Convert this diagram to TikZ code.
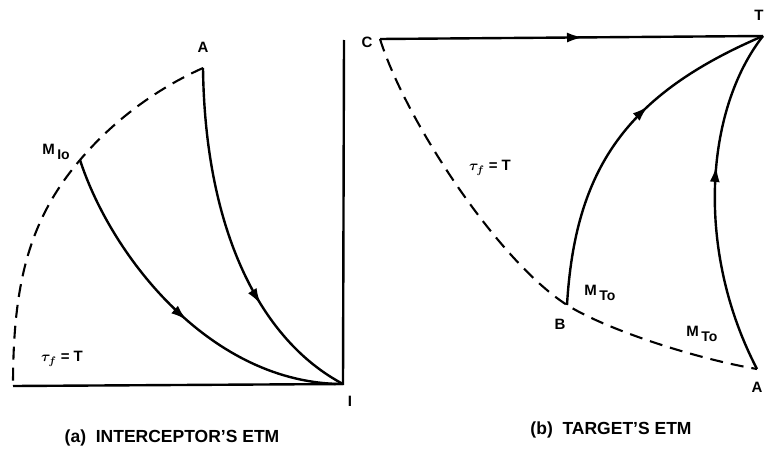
\documentclass[tikz,border=0pt]{standalone}
\usepackage{fontspec}
\setmainfont{Liberation Sans}
\usetikzlibrary{arrows.meta,decorations.markings}

\tikzset{
  traj/.style={line width=2.4pt},
  bound/.style={line width=2.1pt, dash pattern=on 13pt off 8pt},
  midarrow/.style={postaction={decorate},
    decoration={markings,mark=at position #1 with {\arrow{Latex[length=16pt,width=10pt]}}}},
  lbl/.style={font=\fontsize{15}{17}\selectfont\bfseries\boldmath, inner sep=0pt},
  capt/.style={font=\fontsize{17.5}{20}\selectfont\bfseries, inner sep=0pt},
}
\newcommand{\lowsub}[1]{\,\raisebox{-5pt}{\fontsize{14}{15}\selectfont #1}}

\begin{document}
\begin{tikzpicture}[x=1pt,y=-1pt]
  \useasboundingbox (0,0) rectangle (765,455);
  % (a) interceptor's ETM
  \coordinate (aA) at (203,68); \coordinate (aM) at (80,160);
  \coordinate (aI) at (343,384); \coordinate (aO) at (13,386);
  \coordinate (aY) at (344,40);
  \draw[traj] (aO) -- (aI) -- (aY);
  \draw[bound] (aA) .. controls (156,89) and (113,121) .. (aM)
    .. controls (28,221) and (13,286) .. (aO);
  \draw[traj,midarrow=0.68] (aA) .. controls (205,230) and (260,340) .. (aI);
  \draw[traj,midarrow=0.53] (aM) .. controls (112,258) and (212,384) .. (aI);
  \node[lbl] (labA) at (203,47) {A};
  \node[lbl] (labM) at (56,152) {M\lowsub{Io}};
  \node[lbl] (labI) at (350,401) {I};
  \node[lbl] (tauA) at (62,359) {$\tau_f$ = T};
  \node[capt] (captA) at (172,438) {(a)\ \ INTERCEPTOR'S ETM};
  % (b) target's ETM
  \coordinate (bC) at (380,39); \coordinate (bT) at (763,36);
  \coordinate (bB) at (567,305); \coordinate (bA) at (757,369);
  \draw[traj,midarrow=0.53] (bC) -- (bT);
  \draw[bound] (bC) .. controls (405,119) and (497,260) .. (bB)
    .. controls (607,330) and (697,359) .. (bA);
  \draw[traj,midarrow=0.62] (bB) .. controls (575,170) and (625,95) .. (bT);
  \draw[traj,midarrow=0.6] (bA) .. controls (695,250) and (705,110) .. (bT);
  \node[lbl] (labC) at (367,42) {C};
  \node[lbl] (labT) at (759,15) {T};
  \node[lbl] (labB) at (560,324) {B};
  \node[lbl] (labAb) at (757,387) {A};
  \node[lbl] (labM1) at (600,293) {M\lowsub{To}};
  \node[lbl] (labM2) at (702,334) {M\lowsub{To}};
  \node[lbl] (tauB) at (490,168) {$\tau_f$ = T};
  \node[capt] (captB) at (611,430) {(b)\ \ TARGET'S ETM};
\end{tikzpicture}
\end{document}
